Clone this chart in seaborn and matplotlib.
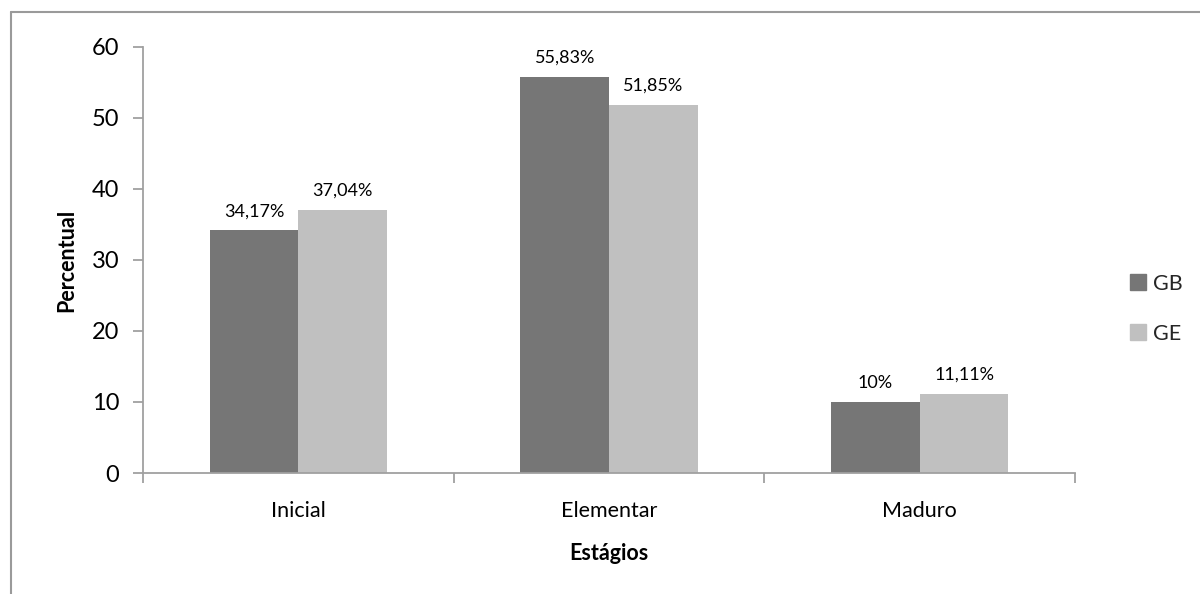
import matplotlib
matplotlib.use("Agg")
import matplotlib.pyplot as plt
import matplotlib.lines as mlines
import seaborn as sns
import pandas as pd
from matplotlib.ticker import FixedLocator

# Motor development stages, percentage per group
estagios = ["Inicial", "Elementar", "Maduro"]
grupos = ["GB", "GE"]
gb_vals = [34.17, 55.83, 10.0]
ge_vals = [37.04, 51.85, 11.11]
gb_labels = ["34,17%", "55,83%", "10%"]
ge_labels = ["37,04%", "51,85%", "11,11%"]
cores = ["#767676", "#C0C0C0"]

df = pd.DataFrame({
    "Estágios": estagios * 2,
    "Grupo": ["GB"] * 3 + ["GE"] * 3,
    "Percentual": gb_vals + ge_vals,
})

sns.set_theme(style="white")
plt.rcParams["font.family"] = ["Lato", "DejaVu Sans"]

fig = plt.figure(figsize=(12, 5.94), dpi=100)
ax = fig.add_axes([0.119, 0.2037, 0.777, 0.7172])

sns.barplot(data=df, x="Estágios", y="Percentual", hue="Grupo",
            palette=cores, width=0.57, saturation=1, ax=ax, legend=False,
            linewidth=0)

ax.set_ylim(0, 60)
ax.set_xlim(-0.5, 2.5)
ax.set_yticks(range(0, 61, 10))

# value labels above each bar
for cont, labs in zip(ax.containers, [gb_labels, ge_labels]):
    ax.bar_label(cont, labels=labs, padding=8, fontsize=13, color="#000000")

spine_c = "#A0A0A0"
for s in ["top", "right"]:
    ax.spines[s].set_visible(False)
for s in ["left", "bottom"]:
    ax.spines[s].set_color(spine_c)
    ax.spines[s].set_linewidth(1.3)

ax.tick_params(axis="y", which="major", direction="out", length=7, width=1.3,
               color=spine_c, labelsize=17, pad=10, left=True, labelcolor="#000000")
ax.tick_params(axis="x", which="major", length=0, labelsize=15.5, pad=20,
               labelcolor="#000000")
ax.xaxis.set_minor_locator(FixedLocator([-0.5, 0.5, 1.5, 2.5]))
ax.tick_params(axis="x", which="minor", direction="out", length=7, width=1.3,
               color=spine_c, bottom=True)

ax.set_xlabel("Estágios", fontsize=15.5, fontweight="bold", labelpad=16,
              color="#000000")
ax.set_ylabel("Percentual", fontsize=15.5, fontweight="bold", labelpad=10,
              color="#000000")

# legend on the right
handles = [mlines.Line2D([], [], marker="s", linestyle="none", markersize=11,
                         markerfacecolor=c, markeredgecolor=c) for c in cores]
fig.legend(handles, grupos, loc="center left", bbox_to_anchor=(0.925, 0.48),
           frameon=False, fontsize=15.5, handletextpad=0.3, labelspacing=1.4,
           handlelength=0.8)

# outer chart frame (left and top edges)
fig.add_artist(mlines.Line2D([0.0095, 0.0095], [0, 0.98], transform=fig.transFigure,
                             color="#9A9A9A", linewidth=1.5))
fig.add_artist(mlines.Line2D([0.0095, 1.0], [0.98, 0.98], transform=fig.transFigure,
                             color="#9A9A9A", linewidth=1.5))

fig.savefig("out.png", dpi=100, facecolor="white")
